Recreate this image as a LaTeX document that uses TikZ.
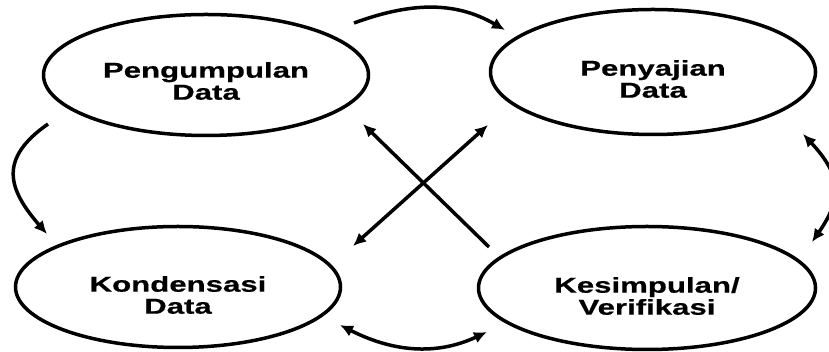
\documentclass[tikz,border=0pt]{standalone}
\usepackage{fontspec}
\newfontfamily\labelfont[FakeStretch=1.45,FakeBold=0.6]{Liberation Sans Bold}
\usetikzlibrary{shapes.geometric,arrows.meta,calc}

\tikzset{
  stage/.style={ellipse,draw,line width=3.5pt,minimum width=325pt,minimum height=121pt,inner sep=0pt},
  lbl/.style={font=\labelfont\fontsize{21.5}{22}\selectfont,align=center,inner sep=0pt},
  link/.style={line width=3.5pt,>={Latex[length=13pt,width=12pt]}},
}

\begin{document}
\begin{tikzpicture}[x=1pt,y=1pt]
  \useasboundingbox (0,0) rectangle (829,352);

  % Stages
  \node[stage] (peng) at (206,277) {};
  \node[stage,minimum height=125pt] (saji) at (653,280) {};
  \node[stage] (kond) at (178,65) {};
  \node[stage,minimum width=337pt,minimum height=123pt] (simp) at (647,64) {};

  % Labels
  \node[lbl] (pengtext) at ([yshift=-6pt]peng.center) {Pengumpulan\\Data};
  \node[lbl] (sajitext) at ([yshift=-7pt]saji.center) {Penyajian\\Data};
  \node[lbl] (kondtext) at ([yshift=-8pt]kond.center) {Kondensasi\\Data};
  \node[lbl] (simptext) at ([yshift=-8pt]simp.center) {Kesimpulan/\\Verifikasi};

  % Outer arcs
  \draw[link,->] ($(peng.center)+(148,52)$) to[out=20,in=150] ($(saji.center)+(-148,42)$);
  \draw[link,->] ($(peng.center)+(-158,-49)$) to[out=215,in=131,looseness=1.4] ($(kond.center)+(-131,53)$);
  \draw[link,<->] ($(saji.center)+(150,-62)$) to[out=-47,in=55,looseness=1.3] ($(simp.center)+(165,46)$);
  \draw[link,<->] ($(kond.center)+(162,-38)$) to[out=-27,in=205] ($(simp.center)+(-160,-44)$);

  % Cross
  \draw[link,->] ($(simp.center)+(-158,41)$) -- ($(peng.center)+(157,-49)$);
  \draw[link,<->] ($(saji.center)+(-165,-53)$) -- ($(kond.center)+(175,41)$);
\end{tikzpicture}
\end{document}
